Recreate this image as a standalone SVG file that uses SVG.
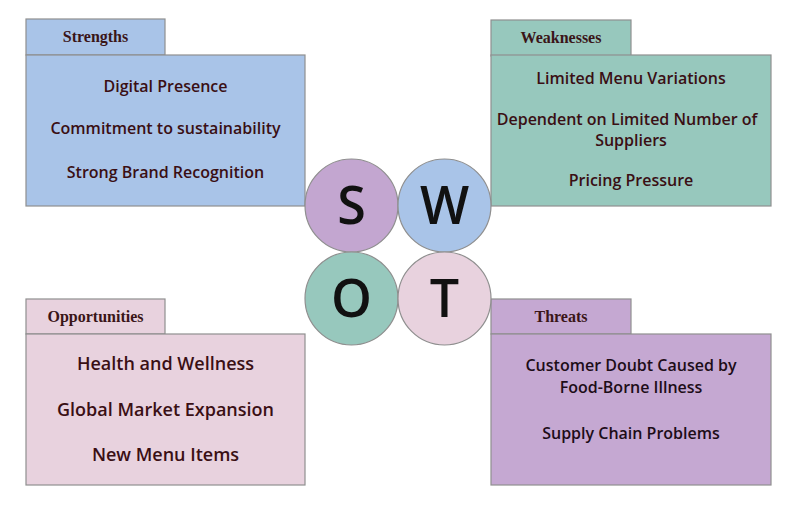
<svg xmlns="http://www.w3.org/2000/svg" width="800" height="505" viewBox="0 0 800 505">
<style>
.box{stroke:#8f8f8f;stroke-width:1.2}
.title{font-family:"Liberation Serif",serif;font-weight:bold;font-size:16px;fill:#3a1518;text-anchor:middle}
.item{font-family:"Open Sans","DejaVu Sans",sans-serif;font-weight:600;font-size:16px;fill:#3a0f14;text-anchor:middle}
.big{font-size:18px}
.circ{stroke:#8f8f8f;stroke-width:1.2}
.letter{font-family:"Open Sans","DejaVu Sans",sans-serif;font-weight:600;font-size:52px;fill:#111;text-anchor:middle}
</style>
<rect width="800" height="505" fill="#fff"/>
<g id="strengths">
<rect class="box" x="26" y="19" width="139" height="36" fill="#a9c4e8"/>
<rect class="box" x="26" y="55" width="279" height="151" fill="#a9c4e8"/>
<text class="title" x="95.5" y="42">Strengths</text>
<text class="item" x="165.5" y="92">Digital Presence</text>
<text class="item" x="165.5" y="134">Commitment to sustainability</text>
<text class="item" x="165.5" y="178">Strong Brand Recognition</text>
</g>
<g id="weaknesses">
<rect class="box" x="491" y="20" width="140" height="36" fill="#97c8bd"/>
<rect class="box" x="491" y="55" width="280" height="151" fill="#97c8bd"/>
<text class="title" x="561" y="43">Weaknesses</text>
<text class="item" x="631" y="84">Limited Menu Variations</text>
<text class="item" x="627" y="125">Dependent on Limited Number of</text>
<text class="item" x="631" y="146">Suppliers</text>
<text class="item" x="631" y="186">Pricing Pressure</text>
</g>
<g id="opportunities">
<rect class="box" x="26" y="299" width="139" height="35" fill="#e8d2de"/>
<rect class="box" x="26" y="334" width="279" height="151" fill="#e8d2de"/>
<text class="title" x="95.5" y="322">Opportunities</text>
<text class="item big" x="165.5" y="370">Health and Wellness</text>
<text class="item big" x="165.5" y="416">Global Market Expansion</text>
<text class="item big" x="165.5" y="461">New Menu Items</text>
</g>
<g id="threats">
<rect class="box" x="491" y="299" width="140" height="35" fill="#c5a8d2"/>
<rect class="box" x="491" y="334" width="280" height="151" fill="#c5a8d2"/>
<text class="title" x="561" y="322">Threats</text>
<text class="item" x="631" y="371" style="fill:#1d0d18">Customer Doubt Caused by</text>
<text class="item" x="631" y="393" style="fill:#1d0d18">Food-Borne Illness</text>
<text class="item" x="631" y="439" style="fill:#1d0d18">Supply Chain Problems</text>
</g>
<g id="swot">
<g id="circle-s"><circle class="circ" cx="351.5" cy="205.5" r="46.5" fill="#c3a6d0"/><text class="letter" x="351.5" y="224">S</text></g>
<g id="circle-w"><circle class="circ" cx="444.5" cy="205.5" r="46.5" fill="#a9c4e8"/><text class="letter" x="444.5" y="224">W</text></g>
<g id="circle-o"><circle class="circ" cx="351.5" cy="298.5" r="46.5" fill="#97c8bd"/><text class="letter" x="351.5" y="317">O</text></g>
<g id="circle-t"><circle class="circ" cx="444.5" cy="298.5" r="46.5" fill="#e8d2de"/><text class="letter" x="444.5" y="317">T</text></g>
</g>
<g id="connectors"/>
</svg>
